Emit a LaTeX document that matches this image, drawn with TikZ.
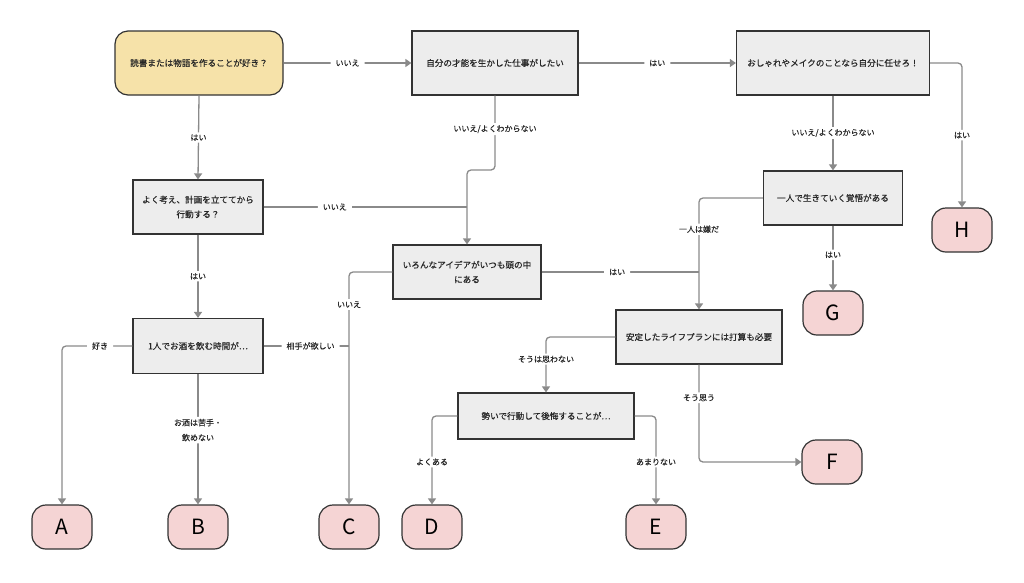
\documentclass[tikz,border=0pt]{standalone}
\usepackage{fontspec}
\setmainfont{Noto Sans CJK JP}
\newfontfamily\jpfont{Noto Sans CJK JP}[FakeBold=0.35]
\usetikzlibrary{arrows.meta}

\definecolor{startfill}{HTML}{F6E2A9}
\definecolor{endfill}{HTML}{F5D4D4}
\definecolor{boxfill}{HTML}{EDEDED}
\definecolor{boxline}{HTML}{333333}
\definecolor{linkgray}{HTML}{8A8A8A}

\begin{document}
\begin{tikzpicture}[x=1pt,y=-1pt,
    question/.style={draw=boxline,line width=1.2pt,fill=boxfill,inner sep=0pt,
      align=center,font=\jpfont\fontsize{8.6}{14.6}\selectfont,text=black!85},
    startbox/.style={question,fill=startfill,rounded corners=13pt},
    result/.style={draw=boxline,line width=1.2pt,fill=endfill,rounded corners=14pt,
      minimum width=60pt,minimum height=44pt,inner sep=0pt,font=\fontsize{21}{21}\selectfont},
    link/.style={draw=linkgray,line width=1.3pt,rounded corners=4pt},
    arrow/.style={link,-{Triangle[width=8pt,length=6pt]}},
    lbl/.style={fill=white,inner xsep=5pt,inner ysep=2pt,align=center,text=black!85,
      font=\jpfont\fontsize{8}{15}\selectfont}]
  \useasboundingbox (0,0) rectangle (1024,582);

  % Questions
  \node[startbox,minimum width=168pt,minimum height=64pt] (q1) at (199,63) {読書または物語を作ることが好き？};
  \node[question,minimum width=166pt,minimum height=64pt] (q2) at (495,63) {自分の才能を生かした仕事がしたい};
  \node[question,minimum width=193pt,minimum height=64pt] (q3) at (833,63) {おしゃれやメイクのことなら自分に任せろ！};
  \node[question,minimum width=130pt,minimum height=54pt] (q4) at (198,207) {よく考え、計画を立ててから\\行動する？};
  \node[question,minimum width=148pt,minimum height=54pt] (q5) at (467,272) {いろんなアイデアがいつも頭の中\\にある};
  \node[question,minimum width=139pt,minimum height=54pt] (q6) at (833,198) {一人で生きていく覚悟がある};
  \node[question,minimum width=130pt,minimum height=55pt] (q7) at (198,346) {1人でお酒を飲む時間が…};
  \node[question,minimum width=166pt,minimum height=54pt] (q8) at (699,337) {安定したライフプランには打算も必要};
  \node[question,minimum width=176pt,minimum height=46pt] (q9) at (546,416) {勢いで行動して後悔することが…};

  % Results
  \node[result] (A) at (62,527) {A};
  \node[result] (B) at (198,527) {B};
  \node[result] (C) at (349,527) {C};
  \node[result] (D) at (432,527) {D};
  \node[result] (E) at (656,527) {E};
  \node[result] (F) at (832,462) {F};
  \node[result] (G) at (833,313) {G};
  \node[result] (H) at (962,230) {H};

  % Turning points
  \coordinate (k1) at (495,170);

  % Top row
  \draw[arrow] (q1.east) -- node[lbl]{いいえ} (q2.west);
  \draw[arrow] (q2.east) -- node[lbl]{はい} (q3.west);
  \draw[arrow] (q3.east) -| node[lbl,pos=0.75]{はい} (H.north);

  % Left column
  \draw[arrow] (q1.south) -- node[lbl]{はい} (q4.north);
  \draw[arrow] (q4.south) -- node[lbl]{はい} (q7.north);
  \draw[arrow] (q7.west) -| node[lbl,pos=0.23]{好き} (A.north);
  \draw[arrow] (q7.south) -- node[lbl,pos=0.43]{お酒は苦手・\\飲めない} (B.north);
  \draw[link] (q7.east) -- node[lbl,pos=0.55]{相手が欲しい} (q7.east -| C.north);

  % Middle
  \draw[arrow] (q2.south) -- node[lbl,pos=0.45]{いいえ/よくわからない} (k1) -| (q5.north);
  \draw[link] (q4.east) -- node[lbl,pos=0.35]{いいえ} (q4.east -| q5.north);
  \draw[arrow] (q5.west) -| node[lbl,pos=0.57]{いいえ} (C.north);
  \draw[link] (q5.east) -- node[lbl,pos=0.48]{はい} (q5.east -| q8.north);

  % Right side
  \draw[arrow] (q3.south) -- node[lbl]{いいえ/よくわからない} (q6.north);
  \draw[arrow] (q6.south) -- node[lbl,pos=0.45]{はい} (G.north);
  \draw[arrow] (q6.west) -| node[lbl,pos=0.64]{一人は嫌だ} (q8.north);
  \draw[arrow] (q8.west) -| node[lbl,pos=0.7]{そうは思わない} (q9.north);
  \draw[arrow] (q8.south) |- node[lbl,pos=0.17]{そう思う} (F.west);

  % Bottom row
  \draw[arrow] (q9.west) -| node[lbl,pos=0.76]{よくある} (D.north);
  \draw[arrow] (q9.east) -| node[lbl,pos=0.76]{あまりない} (E.north);
\end{tikzpicture}
\end{document}
